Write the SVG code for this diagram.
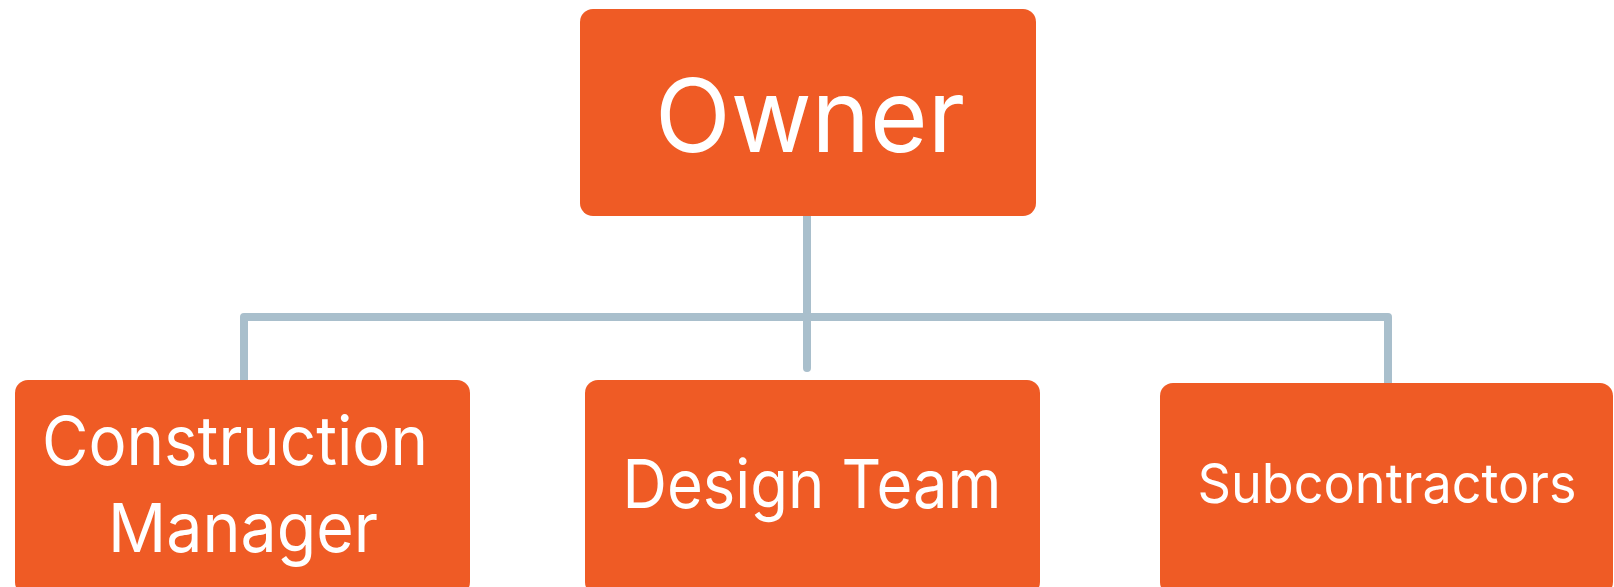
<svg xmlns="http://www.w3.org/2000/svg" width="1614" height="587" viewBox="0 0 1614 587">
<style>
.box{fill:#EF5B25;}
.lbl{font-family:Inter,Roboto,"Liberation Sans",sans-serif;fill:#FFFFFF;text-anchor:middle;font-variant-ligatures:none;}
.conn{fill:none;stroke:#A9BFCC;stroke-width:8;}
</style>
<rect width="1614" height="587" fill="#FFFFFF"/>
<g id="connectors">
<path class="conn" d="M807,216 V317"/>
<path class="conn" d="M244,381 V317 H1388 V383" stroke-linejoin="round"/>
<path class="conn" d="M807,317 V368" stroke-linecap="round"/>
</g>
<g id="owner">
<rect class="box" x="580" y="9" width="456" height="207" rx="13"/>
<text class="lbl" x="810" y="152" font-size="102" textLength="310" lengthAdjust="spacingAndGlyphs">Owner</text>
</g>
<g id="construction-manager">
<rect class="box" x="15" y="380" width="455" height="215" rx="13"/>
<text class="lbl" x="235" y="465" font-size="68" textLength="386" lengthAdjust="spacingAndGlyphs">Construction</text>
<text class="lbl" x="243" y="552" font-size="68" textLength="270" lengthAdjust="spacingAndGlyphs">Manager</text>
</g>
<g id="design-team">
<rect class="box" x="585" y="380" width="455" height="215" rx="13"/>
<text class="lbl" x="812" y="508" font-size="67" textLength="379" lengthAdjust="spacingAndGlyphs">Design Team</text>
</g>
<g id="subcontractors">
<rect class="box" x="1160" y="383" width="453" height="212" rx="13"/>
<text class="lbl" x="1387" y="503" font-size="55" textLength="379" lengthAdjust="spacingAndGlyphs">Subcontractors</text>
</g>
</svg>
